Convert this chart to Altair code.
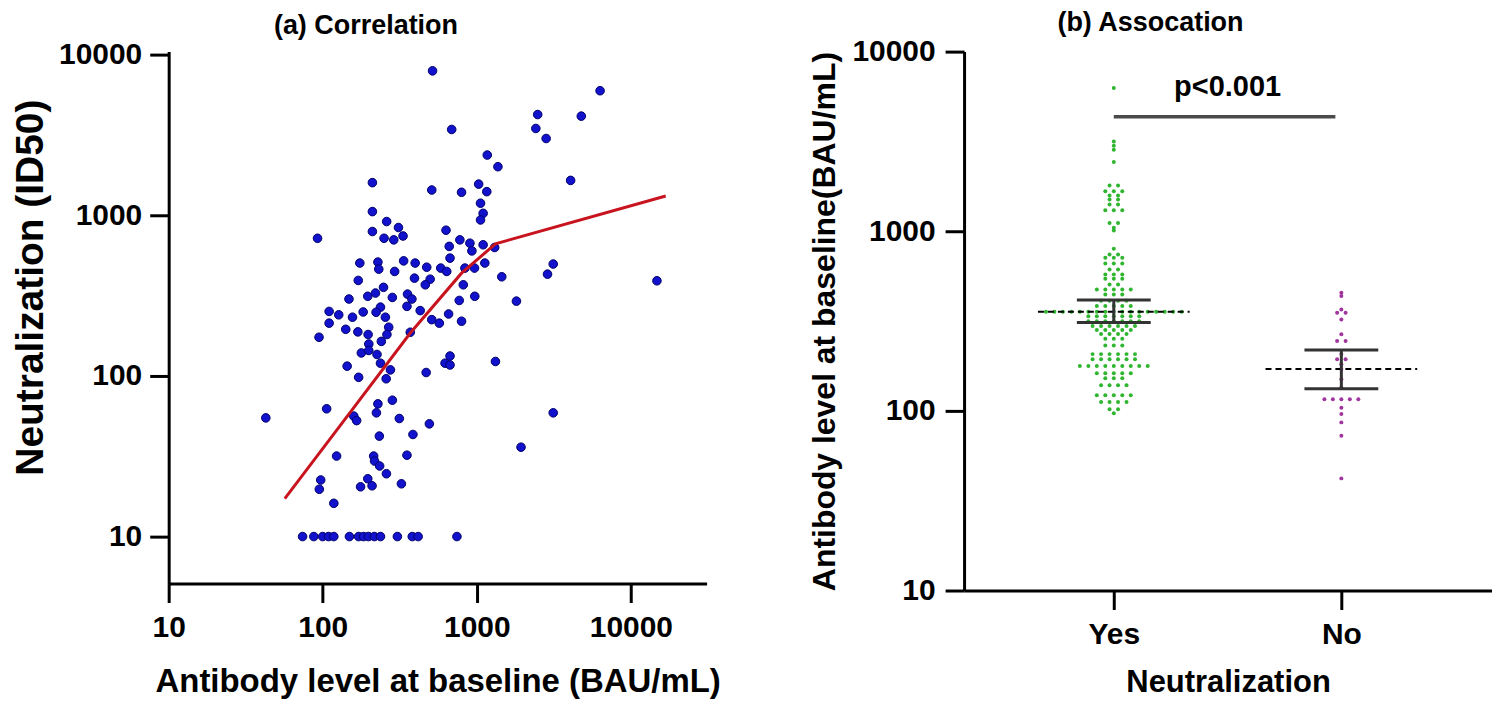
import altair as alt
import numpy as np
import pandas as pd

FONT = "Liberation Sans"

# ---------------- (a) Correlation : scatter data ----------------
sc_antibody = [516, 6310, 2484, 4766, 687, 2416, 2818, 1169, 1371, 4064, 210, 1028, 1161,
               1306, 1452, 1808, 3133, 2877, 14760,
               42.7, 1936, 3133, 1321,
               510, 796, 1057, 1099, 1057, 210, 260, 310, 210, 250, 289, 332, 92.5, 631, 776, 662, 902, 929, 1099, 670,
               174, 228, 231, 335, 398, 473, 293, 583, 638, 837, 966, 1127, 170, 394, 498, 463, 817, 248,
               148, 196, 220, 283, 355, 379, 352, 769, 970, 237, 222, 183, 110, 127, 156, 255, 429, 510, 571, 656, 796,
               110, 141, 169, 197, 268, 261, 370, 94.6, 240, 199,
               178, 199, 225, 144, 237, 275, 171, 258, 469, 622, 670, 670, 106, 228, 223, 283, 159, 166, 314, 492,
               233, 385, 123, 214, 217, 234, 352, 259, 97, 95, 196, 176, 209, 324, 118,
               74, 87.5, 100, 109, 118, 149, 171, 184, 198, 216, 237, 305, 381, 416, 743]
sc_neut = [7925, 5960, 4236, 4140, 3420, 3470, 3005, 2370, 2006, 1648, 1596, 1563, 1403,
           630, 414, 292, 497, 430, 391,
           54.8, 36, 58.9, 123,
           1436, 1390, 1189, 1028, 935, 1054, 914, 839, 792, 719, 703, 743, 719, 807, 703, 640, 670, 600, 655, 541,
           504, 511, 462, 520, 504, 475, 447, 469, 447, 469, 469, 504, 393, 406, 400, 369, 369, 356,
           301, 313, 328, 308, 323, 301, 271, 295, 313, 268, 249, 250, 252, 240, 232, 232, 255, 224, 213, 243, 219,
           213, 195, 188, 181, 201, 181, 187, 174, 164, 158,
           139, 144, 136, 115, 120, 109, 98, 96, 105, 120, 133, 117, 62.4, 67, 58.9, 70.6, 56.2, 52.7, 54.3, 50.3,
           42.2, 43.2, 31.7, 31.7, 29.5, 27.5, 32.1, 24.6, 22.5, 19.7, 22.9, 20.4, 20.7, 21.3, 16.1,
           10, 10, 10, 10, 10, 10, 10, 10, 10, 10, 10, 10, 10, 10, 10]

# fitted curve
fit_antibody = [56.7, 152, 370, 796, 1321, 16830]
fit_neut = [17.2, 60, 185, 436, 664, 1318]

# ---------------- (b) Assocation : group data ----------------
group_names = ["Yes", "No"]
yes_values = [6270, 3160, 2990, 2840, 2430,
              1800, 1800, 1670, 1670, 1670, 1580, 1580, 1500, 1500, 1410, 1410, 1310, 1310, 1310,
              1110, 1110, 1045, 1010, 800, 743, 743, 711, 711, 711, 661, 661, 661, 612, 612,
              574, 574, 574, 544, 544, 544, 506, 506, 474, 474, 474, 474, 474, 445, 445, 445,
              410, 410, 410, 410, 383, 383, 383, 383, 383,
              356, 356, 356, 356, 356, 356, 356, 356, 356, 356, 356, 356, 356, 356, 356, 356, 356,
              336, 336, 336, 336, 336, 336, 336, 316, 316, 316, 316, 316, 316, 316,
              297, 297, 297, 297, 297, 297, 282, 282, 282, 282, 282, 268, 268, 268, 268,
              252, 252, 252, 231, 231, 231, 207, 207, 207, 207, 207, 207, 194, 194, 194, 194, 194, 194,
              178, 178, 178, 178, 178, 178, 178, 178, 178, 162, 162, 162, 162, 162, 152, 152, 152,
              139, 139, 139, 139, 122, 122, 122, 122, 122, 112, 112, 112, 112, 102, 102, 97]
no_values = [455, 436, 367, 352, 352, 323, 267, 245, 245, 207, 194, 194, 182, 171, 150, 135,
             116, 116, 116, 116, 116, 104, 96, 86.3, 72.6, 42.1]
group_mean = [356, 171]
group_lo = [310, 133]
group_hi = [414, 218]
p_label = "p<0.001"
p_line_value = 4340
p_text_value = 6370

# ---------------- layout constants ----------------
L_W, L_H = 539, 533
R_W, R_H = 529, 540
R_DOM = [0.342, 2.662]
PX_PER_UNIT = R_W / (R_DOM[1] - R_DOM[0])
DOT_STEP = 8.5


def swarm_offsets(vals, step=DOT_STEP):
    vals = np.asarray(vals, float)
    offs = np.zeros(len(vals))
    keys = np.round(np.log10(vals) * (R_H / 3.0) / 2.0)
    for k in np.unique(keys):
        idx = np.where(keys == k)[0]
        n = len(idx)
        for j, i in enumerate(idx):
            offs[i] = (j - (n - 1) / 2.0) * step
    return offs / PX_PER_UNIT


rows = []
for pos, name, vals in [(1, "Yes", yes_values), (2, "No", no_values)]:
    for v, o in zip(vals, swarm_offsets(vals)):
        rows.append({"pos": pos + o, "value": v, "grp": name})
sw_df = pd.DataFrame(rows)

summ_df = pd.DataFrame({"grp": group_names, "pos": [1, 2], "mean": group_mean,
                        "lo": group_lo, "hi": group_hi})
p_df = pd.DataFrame({"x1": [1], "x2": [2], "y": [p_line_value], "ty": [p_text_value], "label": [p_label]})

MEAN_HALF = 76 / PX_PER_UNIT
CAP_HALF = 37 / PX_PER_UNIT
INSET = 6 / PX_PER_UNIT

# ---------------- left chart ----------------
lxs = alt.Scale(type="log", domain=[10, 31000], nice=False)
lys = alt.Scale(type="log", domain=[5.1, 10440], nice=False)
lx_axis = alt.Axis(values=[10, 100, 1000, 10000], format="d",
                   title="Antibody level at baseline (BAU/mL)", titleFontSize=33, titlePadding=23)
ly_axis = alt.Axis(values=[10, 100, 1000, 10000], format="d", title="Neutralization (ID50)",
                   titleFontSize=39, titlePadding=8, labelPadding=8, titleY=236)

sc_df = pd.DataFrame({"antibody": sc_antibody, "neut": sc_neut})
fit_df = pd.DataFrame({"antibody": fit_antibody, "neut": fit_neut})

pts = alt.Chart(sc_df).mark_circle(size=74, color="#1212cc", opacity=1,
                                   stroke="#00006a", strokeWidth=1).encode(
    x=alt.X("antibody:Q", scale=lxs, axis=lx_axis),
    y=alt.Y("neut:Q", scale=lys, axis=ly_axis))
fit = alt.Chart(fit_df).mark_line(color="#c8141e", strokeWidth=3).encode(
    x=alt.X("antibody:Q", scale=lxs),
    y=alt.Y("neut:Q", scale=lys))

left = alt.layer(pts, fit).properties(
    width=L_W, height=L_H,
    title=alt.TitleParams("(a) Correlation", frame="bounds", anchor="middle", offset=0))

# ---------------- right chart ----------------
rxs = alt.Scale(domain=R_DOM, nice=False, zero=False)
rys = alt.Scale(type="log", domain=[10, 10000], nice=False)
rx_axis = alt.Axis(values=[1, 2], labelExpr="datum.value == 1 ? 'Yes' : 'No'",
                   title="Neutralization", titleFontSize=31, titlePadding=18)
ry_axis = alt.Axis(values=[10, 100, 1000, 10000], format="d",
                   title="Antibody level at baseline(BAU/mL)", titleFontSize=32, titlePadding=10)

dots = alt.Chart(sw_df).mark_circle(size=16, opacity=1).encode(
    x=alt.X("pos:Q", scale=rxs, axis=rx_axis),
    y=alt.Y("value:Q", scale=rys, axis=ry_axis),
    color=alt.Color("grp:N", scale=alt.Scale(domain=group_names, range=["#2fb52f", "#a0359e"]),
                    legend=None))

mean_rule = alt.Chart(summ_df).transform_calculate(
    xa=f"datum.pos - {MEAN_HALF}", xb=f"datum.pos + {MEAN_HALF}").mark_rule(
    color="black", strokeWidth=2, strokeDash=[6, 4]).encode(
    x=alt.X("xa:Q", scale=rxs), x2="xb:Q", y=alt.Y("mean:Q", scale=rys))
cap_hi = alt.Chart(summ_df).transform_calculate(
    xa=f"datum.pos - {CAP_HALF}", xb=f"datum.pos + {CAP_HALF}").mark_rule(
    color="#333333", strokeWidth=3).encode(
    x=alt.X("xa:Q", scale=rxs), x2="xb:Q", y=alt.Y("hi:Q", scale=rys))
cap_lo = alt.Chart(summ_df).transform_calculate(
    xa=f"datum.pos - {CAP_HALF}", xb=f"datum.pos + {CAP_HALF}").mark_rule(
    color="#333333", strokeWidth=3).encode(
    x=alt.X("xa:Q", scale=rxs), x2="xb:Q", y=alt.Y("lo:Q", scale=rys))
vbar = alt.Chart(summ_df).mark_rule(color="#333333", strokeWidth=3).encode(
    x=alt.X("pos:Q", scale=rxs), y=alt.Y("lo:Q", scale=rys), y2="hi:Q")

bracket = alt.Chart(p_df).transform_calculate(xb=f"datum.x2 - {INSET}").mark_rule(
    color="#4a4a4a", strokeWidth=3.5).encode(
    x=alt.X("x1:Q", scale=rxs), x2="xb:Q", y=alt.Y("y:Q", scale=rys))
ptext = alt.Chart(p_df).transform_calculate(xm="(datum.x1 + datum.x2) / 2").mark_text(
    font=FONT, fontSize=29, fontWeight="bold", color="black", baseline="middle", align="center").encode(
    x=alt.X("xm:Q", scale=rxs), y=alt.Y("ty:Q", scale=rys), text="label:N")

right = alt.layer(dots, mean_rule, cap_hi, cap_lo, vbar, bracket, ptext).properties(
    width=R_W, height=R_H,
    title=alt.TitleParams("(b) Assocation", frame="bounds", anchor="middle", offset=0))

chart = alt.hconcat(left, right, spacing=88,
                    padding={"left": 3, "top": 0, "right": 0, "bottom": 0}).configure_view(
    stroke=None).configure_axis(
    labelFont=FONT, labelFontSize=30, labelFontWeight="bold", labelColor="black",
    titleFont=FONT, titleFontWeight="bold", titleColor="black",
    domainColor="black", domainWidth=3, tickColor="black", tickWidth=3, tickSize=19,
    labelPadding=10, grid=False, labelFlush=False, labelOverlap=False
).configure_title(font=FONT, fontSize=27, fontWeight="bold", color="black")

chart.save("out.html", embed_options={"renderer": "svg", "actions": False})
